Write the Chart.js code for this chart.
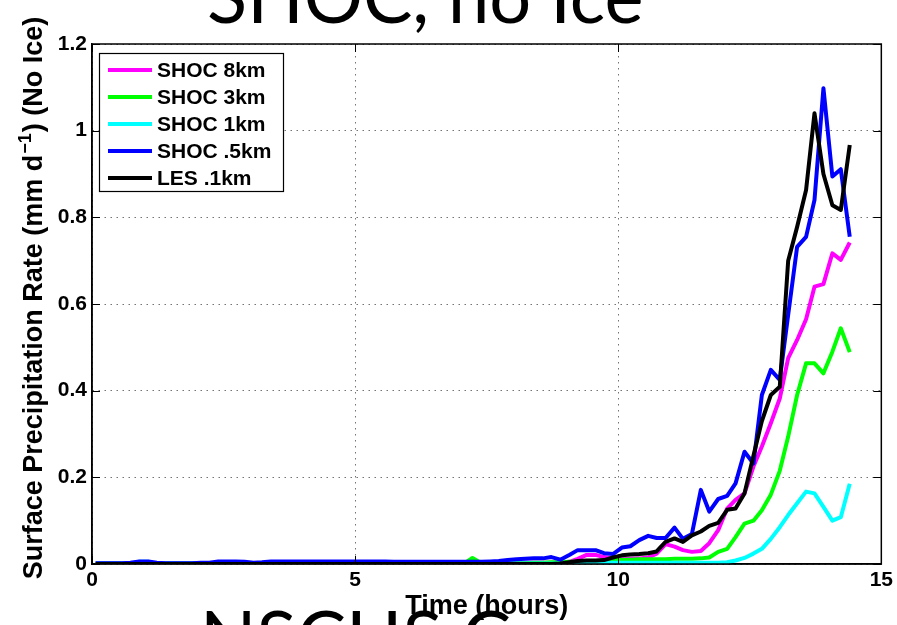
<!DOCTYPE html>
<html>
<head>
<meta charset="utf-8">
<script src="https://cdn.jsdelivr.net/npm/chart.js@4/dist/chart.umd.min.js"></script>
<style>
  html, body { margin: 0; padding: 0; background: #fff; }
  #wrap { position: relative; width: 897px; height: 625px; overflow: hidden; }
  canvas { display: block; }
</style>
</head>
<body>
<div id="wrap"><canvas id="c" width="897" height="625"></canvas></div>
<script>
// Output times (hours), 10-minute interval
const timeHours = [
  0.07, 0.23, 0.40, 0.57, 0.73, 0.90, 1.07, 1.23, 1.40, 1.57,
  1.73, 1.90, 2.07, 2.23, 2.40, 2.57, 2.73, 2.90, 3.07, 3.23,
  3.40, 3.57, 3.73, 3.90, 4.07, 4.23, 4.40, 4.57, 4.73, 4.90,
  5.07, 5.23, 5.40, 5.57, 5.73, 5.90, 6.07, 6.23, 6.40, 6.57,
  6.73, 6.90, 7.07, 7.23, 7.40, 7.57, 7.73, 7.90, 8.07, 8.23,
  8.40, 8.57, 8.73, 8.90, 9.07, 9.23, 9.40, 9.57, 9.73, 9.90,
  10.07, 10.23, 10.40, 10.57, 10.73, 10.90, 11.07, 11.23, 11.40, 11.57,
  11.73, 11.90, 12.07, 12.23, 12.40, 12.57, 12.73, 12.90, 13.07, 13.23,
  13.40, 13.57, 13.73, 13.90, 14.07, 14.23, 14.40
];

// Surface precipitation rate (mm/day)
const shoc8km = [
  0.002, 0.002, 0.002, 0.002, 0.002, 0.002, 0.002, 0.002, 0.002, 0.002,
  0.002, 0.002, 0.002, 0.002, 0.002, 0.002, 0.002, 0.002, 0.002, 0.002,
  0.002, 0.002, 0.002, 0.002, 0.002, 0.002, 0.002, 0.004, 0.004, 0.004,
  0.004, 0.003, 0.003, 0.003, 0.003, 0.003, 0.003, 0.003, 0.003, 0.003,
  0.003, 0.003, 0.003, 0.003, 0.003, 0.003, 0.003, 0.003, 0.003, 0.003,
  0.003, 0.003, 0.003, 0.003, 0.005, 0.012, 0.021, 0.021, 0.016, 0.013,
  0.012, 0.012, 0.013, 0.015, 0.024, 0.046, 0.040, 0.032, 0.028, 0.030,
  0.048, 0.078, 0.128, 0.148, 0.163, 0.225, 0.271, 0.325, 0.382, 0.475,
  0.517, 0.565, 0.640, 0.646, 0.717, 0.702, 0.742
];
const shoc3km = [
  0.001, 0.001, 0.001, 0.001, 0.001, 0.001, 0.001, 0.001, 0.001, 0.001,
  0.001, 0.001, 0.001, 0.001, 0.001, 0.001, 0.001, 0.001, 0.001, 0.001,
  0.001, 0.001, 0.001, 0.001, 0.001, 0.001, 0.001, 0.001, 0.001, 0.001,
  0.001, 0.001, 0.001, 0.001, 0.001, 0.001, 0.001, 0.001, 0.001, 0.001,
  0.001, 0.001, 0.001, 0.014, 0.002, 0.002, 0.002, 0.002, 0.002, 0.002,
  0.003, 0.003, 0.004, 0.004, 0.005, 0.005, 0.006, 0.007, 0.008, 0.009,
  0.010, 0.010, 0.011, 0.011, 0.011, 0.011, 0.012, 0.012, 0.012, 0.013,
  0.015, 0.028, 0.035, 0.062, 0.093, 0.100, 0.124, 0.160, 0.215, 0.294,
  0.390, 0.463, 0.463, 0.440, 0.490, 0.544, 0.489
];
const shoc1km = [
  0.001, 0.001, 0.001, 0.001, 0.001, 0.005, 0.005, 0.001, 0.001, 0.001,
  0.001, 0.001, 0.001, 0.001, 0.001, 0.001, 0.001, 0.001, 0.001, 0.001,
  0.001, 0.001, 0.001, 0.001, 0.001, 0.001, 0.001, 0.001, 0.001, 0.001,
  0.001, 0.001, 0.001, 0.001, 0.001, 0.001, 0.001, 0.001, 0.001, 0.001,
  0.001, 0.001, 0.001, 0.001, 0.001, 0.001, 0.001, 0.001, 0.001, 0.001,
  0.001, 0.001, 0.001, 0.001, 0.001, 0.003, 0.003, 0.003, 0.003, 0.003,
  0.003, 0.003, 0.003, 0.003, 0.003, 0.003, 0.003, 0.003, 0.003, 0.003,
  0.003, 0.003, 0.004, 0.008, 0.014, 0.024, 0.035, 0.058, 0.085, 0.113,
  0.140, 0.167, 0.163, 0.132, 0.100, 0.108, 0.185
];
const shoc05km = [
  0.002, 0.002, 0.002, 0.002, 0.003, 0.006, 0.006, 0.003, 0.002, 0.002,
  0.002, 0.002, 0.003, 0.003, 0.006, 0.006, 0.006, 0.005, 0.003, 0.004,
  0.006, 0.006, 0.006, 0.006, 0.006, 0.006, 0.006, 0.006, 0.006, 0.006,
  0.006, 0.006, 0.006, 0.006, 0.005, 0.005, 0.005, 0.005, 0.005, 0.005,
  0.005, 0.005, 0.005, 0.005, 0.005, 0.006, 0.007, 0.009, 0.011, 0.012,
  0.013, 0.013, 0.016, 0.010, 0.021, 0.032, 0.032, 0.032, 0.025, 0.023,
  0.038, 0.041, 0.055, 0.065, 0.060, 0.060, 0.084, 0.058, 0.069, 0.171,
  0.121, 0.150, 0.157, 0.186, 0.259, 0.232, 0.390, 0.448, 0.425, 0.575,
  0.732, 0.755, 0.840, 1.098, 0.894, 0.911, 0.755
];
const les01km = [
  0, 0, 0, 0, 0, 0, 0, 0, 0, 0,
  0, 0, 0, 0, 0, 0, 0, 0, 0, 0,
  0, 0, 0, 0, 0, 0, 0, 0, 0, 0,
  0, 0, 0, 0, 0, 0, 0, 0, 0, 0,
  0, 0, 0, 0, 0, 0, 0, 0, 0, 0,
  0, 0, 0, 0.001, 0.004, 0.007, 0.008, 0.008, 0.009, 0.015,
  0.020, 0.022, 0.023, 0.025, 0.029, 0.051, 0.059, 0.051, 0.066, 0.075,
  0.088, 0.095, 0.125, 0.128, 0.163, 0.250, 0.330, 0.390, 0.409, 0.700,
  0.778, 0.863, 1.040, 0.900, 0.828, 0.817, 0.967
];

const seriesLabels = ['SHOC 8km', 'SHOC 3km', 'SHOC 1km', 'SHOC .5km', 'LES .1km'];
const seriesColors = ['#ff00ff', '#00ff00', '#00ffff', '#0000ff', '#000000'];
const seriesValues = [shoc8km, shoc3km, shoc1km, shoc05km, les01km];

const xTickValues = [0, 5, 10, 15];
const yTickValues = [0, 0.2, 0.4, 0.6, 0.8, 1, 1.2];

const xTitleText = 'Time (hours)';
const yTitleMain = 'Surface Precipitation Rate (mm d';
const yTitleSup = '\u22121';
const yTitleTail = ') (No Ice)';
const headlineText = 'SHOC, no Ice';
const footlineText = 'NSCHS C';

const FONT = "'Liberation Sans', Arial, Helvetica, sans-serif";

// Inward tick marks on all four sides plus the closed frame
const frameTicks = {
  id: 'frameTicks',
  afterDatasetsDraw(chart) {
    const { ctx, chartArea: a, scales: { x, y } } = chart;
    ctx.save();
    ctx.strokeStyle = '#000';
    ctx.lineWidth = 1;
    const len = 8;
    ctx.beginPath();
    xTickValues.forEach(v => {
      const px = Math.round(x.getPixelForValue(v)) + 0.5;
      ctx.moveTo(px, a.bottom); ctx.lineTo(px, a.bottom - len);
      ctx.moveTo(px, a.top); ctx.lineTo(px, a.top + len);
    });
    yTickValues.forEach(v => {
      const py = Math.round(y.getPixelForValue(v)) + 0.5;
      ctx.moveTo(a.left, py); ctx.lineTo(a.left + len, py);
      ctx.moveTo(a.right, py); ctx.lineTo(a.right - len, py);
    });
    ctx.stroke();
    ctx.lineWidth = 1.5;
    ctx.strokeRect(a.left, a.top, a.right - a.left, a.bottom - a.top);
    ctx.restore();
  }
};

// Boxed legend in the upper-left corner of the plot
const boxLegend = {
  id: 'boxLegend',
  afterDraw(chart) {
    const { ctx, chartArea: a } = chart;
    const bx = a.left + 7, by = a.top + 9, bw = 184, bh = 138;
    ctx.save();
    ctx.fillStyle = '#fff';
    ctx.fillRect(bx, by, bw, bh);
    ctx.strokeStyle = '#000';
    ctx.lineWidth = 1.2;
    ctx.strokeRect(bx + 0.5, by + 0.5, bw, bh);
    ctx.font = 'bold 21px ' + FONT;
    ctx.textBaseline = 'middle';
    ctx.textAlign = 'left';
    chart.data.datasets.forEach((ds, i) => {
      const cy = by + 17 + i * 27;
      ctx.strokeStyle = ds.borderColor;
      ctx.lineWidth = 4;
      ctx.beginPath();
      ctx.moveTo(bx + 9, cy);
      ctx.lineTo(bx + 53, cy);
      ctx.stroke();
      ctx.fillStyle = '#000';
      ctx.fillText(ds.label, bx + 58, cy + 1);
    });
    ctx.restore();
  }
};

// Rotated y-axis title with a superscript exponent, and the slide headings
const textLayer = {
  id: 'textLayer',
  afterDraw(chart) {
    const { ctx } = chart;
    ctx.save();
    const big = 'bold 27px ' + FONT, small = 'bold 18px ' + FONT;
    ctx.font = big;
    const w1 = ctx.measureText(yTitleMain).width;
    const w3 = ctx.measureText(yTitleTail).width;
    ctx.font = small;
    const w2 = ctx.measureText(yTitleSup).width;
    const total = w1 + w2 + w3 + 2;
    ctx.translate(32, 298);
    ctx.rotate(-Math.PI / 2);
    ctx.fillStyle = '#000';
    ctx.textBaseline = 'alphabetic';
    ctx.textAlign = 'left';
    let x0 = -total / 2;
    const base = 9.7;
    ctx.font = big; ctx.fillText(yTitleMain, x0, base); x0 += w1 + 1;
    ctx.font = small; ctx.fillText(yTitleSup, x0, base - 11); x0 += w2 + 1;
    ctx.font = big; ctx.fillText(yTitleTail, x0, base);
    ctx.restore();

    ctx.save();
    ctx.fillStyle = '#000';
    ctx.font = "74px Lato, 'Open Sans', sans-serif";
    ctx.textBaseline = 'alphabetic';
    ctx.textAlign = 'left';
    ctx.fillText(headlineText, 207, 23);
    ctx.fillText(footlineText, 200, 664);
    ctx.restore();
  }
};

const datasets = seriesLabels.map((label, i) => ({
  label,
  data: timeHours.map((t, k) => ({ x: t, y: seriesValues[i][k] })),
  borderColor: seriesColors[i],
  backgroundColor: seriesColors[i],
  borderWidth: 4,
  pointRadius: 0,
  tension: 0,
  fill: false,
  borderJoinStyle: 'round',
  borderCapStyle: 'butt',
  order: seriesLabels.length - i
}));

new Chart(document.getElementById('c'), {
  type: 'line',
  data: { datasets },
  options: {
    responsive: false,
    animation: false,
    devicePixelRatio: 1,
    layout: { padding: { left: 0, right: 15, top: 44, bottom: 0 } },
    plugins: { legend: { display: false }, tooltip: { enabled: false }, title: { display: false } },
    scales: {
      x: {
        type: 'linear',
        min: 0, max: 15,
        afterBuildTicks: s => { s.ticks = xTickValues.map(v => ({ value: v })); },
        afterFit: s => { s.height = 61; },
        ticks: {
          font: { family: FONT, weight: 'bold', size: 21 },
          color: '#000',
          padding: 4,
          maxRotation: 0,
          callback: v => String(v)
        },
        grid: { color: 'rgba(0,0,0,0.55)', lineWidth: 1, drawTicks: false },
        border: { display: true, color: '#000', width: 1.5, dash: [1.5, 4.5] },
        title: {
          display: true,
          text: xTitleText,
          font: { family: FONT, weight: 'bold', size: 27 },
          color: '#000',
          padding: { top: 0, bottom: 2 }
        }
      },
      y: {
        type: 'linear',
        min: 0, max: 1.2,
        afterBuildTicks: s => { s.ticks = yTickValues.map(v => ({ value: v })); },
        afterFit: s => { s.width = 92; },
        ticks: {
          font: { family: FONT, weight: 'bold', size: 21 },
          color: '#000',
          padding: 5,
          callback: v => String(Math.round(v * 10) / 10)
        },
        grid: { color: 'rgba(0,0,0,0.55)', lineWidth: 1, drawTicks: false },
        border: { display: true, color: '#000', width: 1.5, dash: [1.5, 4.5] }
      }
    }
  },
  plugins: [frameTicks, boxLegend, textLayer]
});
</script>
</body>
</html>
